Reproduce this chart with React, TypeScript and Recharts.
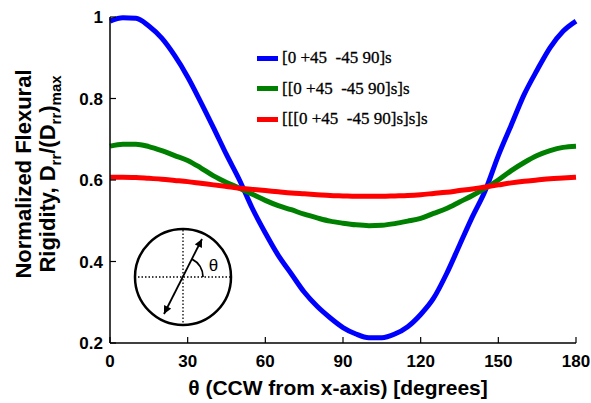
import { Legend, Line, LineChart, XAxis, YAxis } from "recharts";

// ply angle sweep, degrees
const THETA = [
  0, 5, 10, 15, 20, 25, 30, 35, 40, 45, 50, 55, 60, 65, 70, 75, 80, 85, 90,
  95, 100, 105, 110, 115, 120, 125, 130, 135, 140, 145, 150, 155, 160, 165, 170, 175, 180,
];

// normalized D_rr for each stacking sequence
const SINGLE = [
  0.99, 0.998, 0.997, 0.978, 0.948, 0.905, 0.853, 0.792, 0.728, 0.662, 0.6, 0.53, 0.47,
  0.415, 0.37, 0.325, 0.29, 0.262, 0.238, 0.222, 0.213, 0.213, 0.222, 0.24, 0.27, 0.31,
  0.37, 0.44, 0.51, 0.575, 0.66, 0.735, 0.81, 0.87, 0.925, 0.965, 0.99,
];
const DOUBLE = [
  0.683, 0.688, 0.688, 0.682, 0.672, 0.66, 0.648, 0.63, 0.61, 0.594, 0.58, 0.565, 0.55,
  0.537, 0.527, 0.516, 0.507, 0.499, 0.494, 0.49, 0.488, 0.489, 0.493, 0.499, 0.506,
  0.518, 0.53, 0.546, 0.562, 0.58, 0.6, 0.623, 0.643, 0.66, 0.672, 0.68, 0.683,
];
const TRIPLE = [
  0.607, 0.607, 0.606, 0.604, 0.602, 0.599, 0.596, 0.592, 0.588, 0.584, 0.58, 0.577,
  0.574, 0.571, 0.568, 0.566, 0.564, 0.562, 0.561, 0.56, 0.56, 0.56, 0.561, 0.562, 0.564,
  0.567, 0.57, 0.574, 0.578, 0.583, 0.588, 0.593, 0.597, 0.6, 0.603, 0.605, 0.607,
];

const SERIES_NAMES = ["[0 +45  -45 90]s", "[[0 +45  -45 90]s]s", "[[[0 +45  -45 90]s]s]s"];
const X_TICKS = [0, 30, 60, 90, 120, 150, 180];
const Y_TICKS = [0.2, 0.4, 0.6, 0.8, 1];

const rows = THETA.map((theta, i) => ({
  theta,
  single: SINGLE[i],
  double: DOUBLE[i],
  triple: TRIPLE[i],
}));

const tickFont = {
  fontFamily: "'Liberation Sans', Arial, sans-serif",
  fontSize: 17,
  fontWeight: 700,
  fill: "#000",
};

function LegendBox({ payload }: any) {
  return (
    <div style={{ fontFamily: "'Liberation Serif', 'Times New Roman', serif", fontSize: 17, color: "#000" }}>
      {(payload ?? []).map((p: any) => (
        <div key={p.value} style={{ display: "flex", alignItems: "center", height: 30.5 }}>
          <span style={{ display: "inline-block", width: 21, height: 5, background: p.color, marginRight: 4 }} />
          <span style={{ whiteSpace: "pre", WebkitTextStroke: "0.3px #000" }}>{p.value}</span>
        </div>
      ))}
    </div>
  );
}

// axis titles and the fiber-angle sketch in the lower left
function Annotations() {
  const labelFont = "'Liberation Sans', Arial, sans-serif";
  return (
    <svg
      width={591}
      height={403}
      style={{ position: "absolute", left: 0, top: 0, pointerEvents: "none" }}
    >
      <defs>
        <marker
          id="tip"
          viewBox="0 0 10 10"
          refX={10}
          refY={5}
          markerWidth={10}
          markerHeight={8}
          markerUnits="userSpaceOnUse"
          orient="auto-start-reverse"
        >
          <path d="M0,0 L10,5 L0,10 z" fill="#000" />
        </marker>
      </defs>

      <g fontFamily={labelFont} fontWeight={700} fill="#000">
        <text x={338} y={395} fontSize={21} textAnchor="middle">
          θ (CCW from x-axis) [degrees]
        </text>
        <text x={31} y={174} fontSize={22} textAnchor="middle" transform="rotate(-90 31 174)">
          Normalized Flexural
        </text>
        <text x={55} y={174} fontSize={22} textAnchor="middle" transform="rotate(-90 55 174)">
          Rigidity, D
          <tspan fontSize={15} dy={6}>rr</tspan>
          <tspan dy={-6}>/(D</tspan>
          <tspan fontSize={15} dy={6}>rr</tspan>
          <tspan dy={-6}>)</tspan>
          <tspan fontSize={15} dy={6}>max</tspan>
        </text>
      </g>

      <circle cx={183} cy={277} r={48} fill="none" stroke="#000" strokeWidth={2.5} />
      <line x1={138} y1={277} x2={230} y2={277} stroke="#000" strokeWidth={1.3} strokeDasharray="1.5 2" />
      <line x1={183} y1={230} x2={183} y2={324} stroke="#000" strokeWidth={1.3} strokeDasharray="1.5 2" />
      <line
        x1={164}
        y1={314}
        x2={202}
        y2={239}
        stroke="#000"
        strokeWidth={1.8}
        markerStart="url(#tip)"
        markerEnd="url(#tip)"
      />
      <path d="M 203 277 A 20 20 0 0 0 192 259.1" fill="none" stroke="#000" strokeWidth={1.8} />
      <text x={213.5} y={271} fontFamily={labelFont} fontSize={17} textAnchor="middle" fill="#000">
        θ
      </text>
    </svg>
  );
}

export default function App() {
  return (
    <div style={{ position: "absolute", left: 0, top: 0, width: 591, height: 403, background: "#fff" }}>
      <LineChart width={591} height={403} data={rows} margin={{ top: 17, right: 15, bottom: 0, left: 0 }}>
        <XAxis
          dataKey="theta"
          type="number"
          domain={[0, 180]}
          ticks={X_TICKS}
          height={60}
          tickSize={-6}
          tickMargin={18}
          tick={tickFont}
          axisLine={{ stroke: "#000", strokeWidth: 1.5 }}
          tickLine={{ stroke: "#000", strokeWidth: 1.2 }}
        />
        <XAxis
          xAxisId="top"
          orientation="top"
          dataKey="theta"
          type="number"
          domain={[0, 180]}
          ticks={X_TICKS}
          height={0}
          tickSize={-6}
          tick={false}
          axisLine={{ stroke: "#000", strokeWidth: 1.5 }}
          tickLine={{ stroke: "#000", strokeWidth: 1.2 }}
        />
        <YAxis
          type="number"
          domain={[0.2, 1]}
          ticks={Y_TICKS}
          width={110}
          tickSize={-6}
          tickMargin={13}
          tick={tickFont}
          tickFormatter={(v: number) => (v === 1 ? "1" : v.toFixed(1))}
          axisLine={{ stroke: "#000", strokeWidth: 1.5 }}
          tickLine={{ stroke: "#000", strokeWidth: 1.2 }}
        />
        <YAxis
          yAxisId="right"
          orientation="right"
          type="number"
          domain={[0.2, 1]}
          ticks={Y_TICKS}
          width={0}
          tickSize={-6}
          tick={false}
          axisLine={{ stroke: "#000", strokeWidth: 1.5 }}
          tickLine={{ stroke: "#000", strokeWidth: 1.2 }}
        />
        <Legend
          layout="vertical"
          verticalAlign="middle"
          align="center"
          content={<LegendBox />}
          wrapperStyle={{ left: 257, top: 43, width: "auto" }}
        />
        <Line
          type="monotone"
          dataKey="single"
          name={SERIES_NAMES[0]}
          stroke="#0000ff"
          strokeWidth={5}
          dot={false}
          isAnimationActive={false}
        />
        <Line
          type="monotone"
          dataKey="double"
          name={SERIES_NAMES[1]}
          stroke="#008000"
          strokeWidth={5}
          dot={false}
          isAnimationActive={false}
        />
        <Line
          type="monotone"
          dataKey="triple"
          name={SERIES_NAMES[2]}
          stroke="#ff0000"
          strokeWidth={5}
          dot={false}
          isAnimationActive={false}
        />
      </LineChart>
      <Annotations />
    </div>
  );
}
